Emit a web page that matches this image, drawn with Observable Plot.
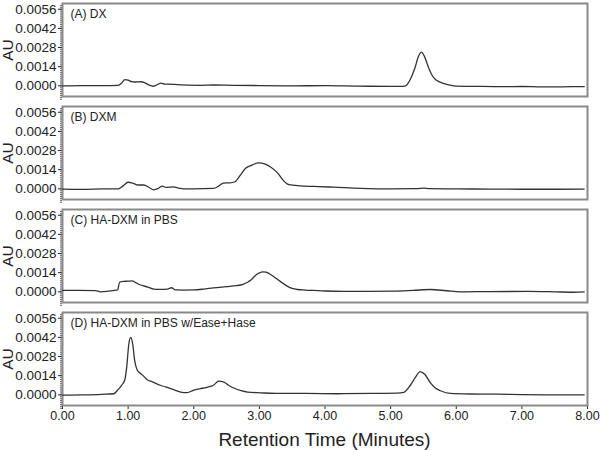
<!DOCTYPE html>
<html>
<head>
<meta charset="utf-8">
<script src="https://cdn.jsdelivr.net/npm/d3@7"></script>
<script src="https://cdn.jsdelivr.net/npm/@observablehq/plot@0.6"></script>
<style>
  html, body { margin: 0; padding: 0; background: #fff; }
  #wrap { position: relative; width: 600px; height: 450px; overflow: hidden; font-family: "Liberation Sans", Arial, sans-serif; }
  #xtitle { position: absolute; left: 62px; width: 525px; top: 429px; line-height: 22px; text-align: center; font-size: 19px; color: #222; }
</style>
</head>
<body>
<div id="wrap">
  <div id="chart"></div>
  <div id="xtitle">Retention Time (Minutes)</div>
</div>
<script>
// Panels
const panels = ["A", "B", "C", "D"];
const panelLabels = ["(A) DX", "(B) DXM", "(C) HA-DXM in PBS", "(D) HA-DXM in PBS w/Ease+Hase"];

// Axis ticks
const xTicks = [0, 1, 2, 3, 4, 5, 6, 7, 8];
const yTicks = [0, 0.0014, 0.0028, 0.0042, 0.0056];

// (A) DX
const dxTime = [0, 0.3, 0.6, 0.85, 0.9, 0.95, 1.0, 1.05, 1.1, 1.2, 1.25, 1.32, 1.38, 1.44, 1.5, 1.56, 1.62, 1.7, 1.9, 2.1, 2.3, 2.6, 3.0, 3.5, 4.0, 4.5, 5.0, 5.15, 5.23, 5.28, 5.33, 5.37, 5.42, 5.47, 5.52, 5.58, 5.64, 5.7, 5.79, 5.9, 6.0, 6.3, 6.7, 7.0, 7.3, 7.6, 7.95];
const dxAU   = [0, 0.00002, 0.00001, 0.00003, 0.0002, 0.00045, 0.00042, 0.0003, 0.00028, 0.0003, 0.00024, 0.00005, -0.00003, 0.00008, 0.0002, 0.00012, 0.00013, 0.0001, 0.00005, 0.00004, 0.00006, 0.00004, 0.00002, 0, 0.00001, -0.00002, -0.00004, -0.00004, 0.0, 0.0003, 0.0008, 0.0013, 0.0021, 0.00247, 0.0021, 0.0013, 0.0007, 0.0004, 0.0002, 0.00005, -0.00002, -0.00004, -0.00006, -0.00005, -0.00008, -0.00007, -0.00006];

// (B) DXM
const dxmTime = [0, 0.3, 0.6, 0.85, 0.92, 1.0, 1.08, 1.15, 1.24, 1.32, 1.39, 1.46, 1.52, 1.58, 1.69, 1.78, 1.85, 2.0, 2.3, 2.38, 2.45, 2.55, 2.62, 2.71, 2.79, 2.87, 2.99, 3.09, 3.17, 3.27, 3.37, 3.45, 3.63, 3.9, 4.13, 4.54, 5.0, 5.4, 5.5, 5.6, 6.0, 6.5, 7.0, 7.5, 7.95];
const dxmAU   = [-0.00002, -0.00004, -0.00001, 0, 0.0002, 0.00048, 0.0004, 0.00028, 0.00028, 0.0001, -0.00007, 0.00003, 0.0002, 0.0001, 0.00014, 0.00004, 0, 0, 0.00003, 0.0002, 0.00042, 0.00044, 0.0005, 0.001, 0.0015, 0.0017, 0.0019, 0.0018, 0.0016, 0.0012, 0.00058, 0.0003, 0.00022, 0.00016, 0.00012, 0.00004, 0, 0.00001, 0.00005, 0.00001, 0, -0.00002, -0.00003, -0.00003, -0.00002];

// (C) HA-DXM in PBS
const pbsTime = [0, 0.25, 0.5, 0.58, 0.7, 0.84, 0.87, 0.93, 1.0, 1.06, 1.12, 1.19, 1.3, 1.39, 1.5, 1.6, 1.66, 1.72, 1.85, 2.0, 2.15, 2.3, 2.5, 2.65, 2.75, 2.82, 2.88, 2.94, 3.0, 3.05, 3.1, 3.16, 3.22, 3.28, 3.35, 3.43, 3.5, 3.58, 3.7, 3.83, 4.0, 4.29, 4.6, 5.05, 5.35, 5.61, 5.85, 6.07, 6.5, 7.09, 7.5, 7.79, 7.95];
const pbsAU   = [0.0001, 0.0001, 0.00009, 0.0, 0.00005, 0.00014, 0.0007, 0.00077, 0.00078, 0.0008, 0.00066, 0.0005, 0.00035, 0.0002, 0.00018, 0.0002, 0.0003, 0.00014, 0.00013, 0.00014, 0.0002, 0.00029, 0.00038, 0.00045, 0.00055, 0.0007, 0.0009, 0.0012, 0.00138, 0.00146, 0.00144, 0.0013, 0.0011, 0.0009, 0.00065, 0.0004, 0.00025, 0.00017, 0.00013, 0.0001, 0.00006, 0.00003, 0.00004, 0.00005, 0.00011, 0.00017, 0.00008, 0.0, 0.00002, 0.00003, 0.0, -0.00003, 0.0];

// (D) HA-DXM in PBS w/Ease+Hase
const enzTime = [0, 0.3, 0.6, 0.78, 0.85, 0.9, 0.95, 0.98, 1.01, 1.04, 1.07, 1.1, 1.14, 1.18, 1.22, 1.29, 1.37, 1.49, 1.57, 1.65, 1.72, 1.8, 1.9, 2.0, 2.1, 2.2, 2.3, 2.38, 2.45, 2.53, 2.61, 2.72, 2.82, 3.02, 3.3, 3.7, 4.2, 4.7, 5.1, 5.2, 5.3, 5.38, 5.45, 5.52, 5.61, 5.68, 5.76, 5.91, 6.2, 6.6, 7.0, 7.5, 7.95];
const enzAU   = [-0.00002, 0.0, 0.00004, 0.00008, 0.0004, 0.0007, 0.0011, 0.0021, 0.0037, 0.0042, 0.0037, 0.0025, 0.0018, 0.0016, 0.00144, 0.0011, 0.00095, 0.0007, 0.00058, 0.00045, 0.00033, 0.0002, 0.00016, 0.00035, 0.00045, 0.00055, 0.0007, 0.001, 0.00095, 0.0007, 0.0005, 0.0003, 0.0002, 0.00015, 0.0001, 0.0001, 0.00008, 0.0001, 0.00012, 0.00018, 0.0007, 0.0013, 0.0017, 0.0015, 0.00085, 0.0005, 0.0003, 0.0001, 0.00006, 0.00005, 0.00002, 0.0, 0.0];

const seriesTimes = [dxTime, dxmTime, pbsTime, enzTime];
const seriesAU = [dxAU, dxmAU, pbsAU, enzAU];

const rows = [];
panels.forEach((p, i) => {
  seriesTimes[i].forEach((t, j) => rows.push({panel: p, t, v: seriesAU[i][j]}));
});
const labelRows = panels.map((p, i) => ({panel: p, label: panelLabels[i]}));

const minorTicks = d3.range(-7, 43).map(k => k * 0.00014);

const chart = Plot.plot({
  width: 600,
  height: 426,
  marginLeft: 62,
  marginRight: 13,
  marginTop: 1,
  marginBottom: 19,
  style: {fontFamily: "'Liberation Sans', Arial, sans-serif", color: "#222", background: "#fff"},
  fy: {domain: panels, paddingInner: 0.096, paddingOuter: 0, axis: null},
  x: {domain: [0, 8]},
  y: {domain: [-0.00078, 0.00602]},
  marks: [
    Plot.axisY({ticks: minorTicks, tickSize: 2, tickFormat: () => "", label: null, strokeOpacity: 0.7}),
    Plot.axisY({ticks: yTicks, tickFormat: d3.format(".4f"), tickSize: 4, tickPadding: 2, label: null, fontSize: 13.5}),
    Plot.axisX({ticks: xTicks, tickFormat: d3.format(".2f"), tickSize: 4, tickPadding: 2, label: null, fontSize: 12.5}),
    Plot.frame({stroke: "#8a8a8a", strokeWidth: 2}),
    Plot.line(rows, {x: "t", y: "v", fy: "panel", stroke: "#333", strokeWidth: 1.3, curve: "monotone-x"}),
    Plot.text(labelRows, {fy: "panel", text: "label", frameAnchor: "top-left", textAnchor: "start", lineAnchor: "top", dx: 8, dy: 6, fontSize: 12, fill: "#222"}),
    Plot.text(labelRows, {fy: "panel", text: () => "AU", frameAnchor: "left", rotate: -90, textAnchor: "middle", lineAnchor: "middle", dx: -54, fontSize: 15.5, fill: "#222"})
  ]
});
document.getElementById("chart").appendChild(chart);
</script>
</body>
</html>
